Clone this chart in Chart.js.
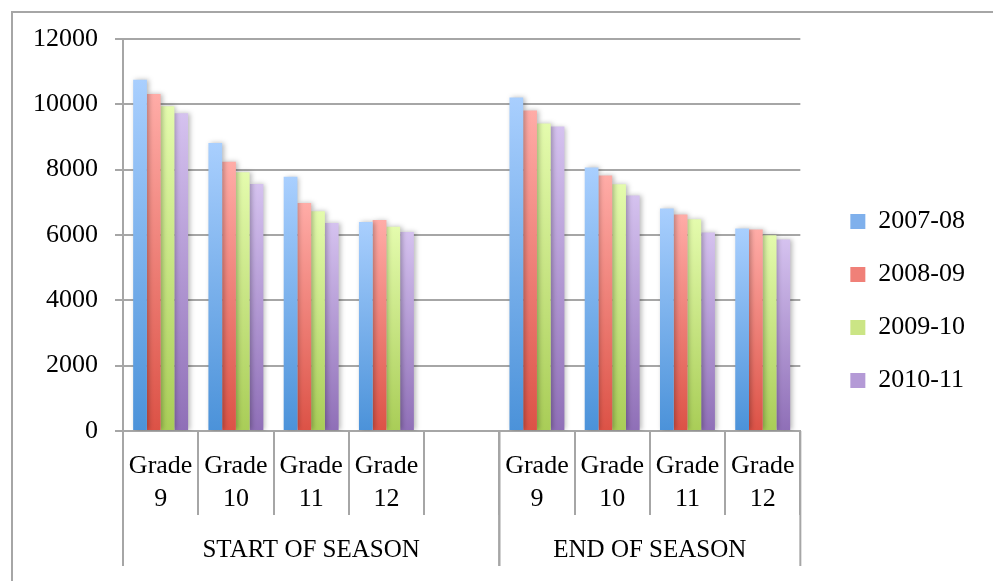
<!DOCTYPE html>
<html>
<head>
<meta charset="utf-8">
<script src="https://cdn.jsdelivr.net/npm/chart.js@4.4.1/dist/chart.umd.min.js"></script>
<style>
  html, body { margin: 0; padding: 0; background: #fff; }
  #wrap { width: 993px; height: 581px; position: relative; }
</style>
</head>
<body>
<div id="wrap"><canvas id="chart"></canvas></div>
<script>
// categorias (el hueco separa los dos grupos)
const categories = [
  ['Grade', '9'], ['Grade', '10'], ['Grade', '11'], ['Grade', '12'],
  '',
  ['Grade', '9'], ['Grade', '10'], ['Grade', '11'], ['Grade', '12']
];
const groupLabels = ['START OF SEASON', 'END OF SEASON'];
const groupStart = [0, 5];
const groupEnd = [4, 8];

const seasons = ['2007-08', '2008-09', '2009-10', '2010-11'];
const s2007 = [10750, 8820, 7780, 6400, null, 10210, 8070, 6810, 6200];
const s2008 = [10320, 8240, 6980, 6460, null, 9810, 7820, 6630, 6170];
const s2009 = [9940, 7920, 6730, 6250, null, 9410, 7550, 6480, 5990];
const s2010 = [9730, 7560, 6370, 6090, null, 9320, 7210, 6080, 5860];

const yTicks = [0, 2000, 4000, 6000, 8000, 10000, 12000];

const COLORS = {
  blue:   ['#a9cffe', '#4b92d9', '#7fb0ec'],
  red:    ['#ffaca7', '#dc5246', '#f08078'],
  green:  ['#e4fbad', '#a9cd57', '#cbe585'],
  purple: ['#d5c2ef', '#8f6fb7', '#b49ad6']
};

const GRID = '#a6a6a6';
const FONT = { family: '"Liberation Serif", "Times New Roman", serif', size: 26 };

function barFill(c) {
  return ctx => {
    const chart = ctx.chart;
    const y = chart.scales && chart.scales.y;
    if (!chart.chartArea || !y || ctx.raw == null) return c[2];
    const yTop = y.getPixelForValue(ctx.raw);
    const yBase = y.getPixelForValue(0);
    const g = chart.ctx.createLinearGradient(0, yTop, 0, yBase);
    g.addColorStop(0, c[0]);
    g.addColorStop(1, c[1]);
    return g;
  };
}

function makeSet(label, data, c) {
  return {
    label: label,
    data: data,
    backgroundColor: barFill(c),
    legendColor: c[2],
    borderWidth: 0,
    categoryPercentage: 0.73,
    barPercentage: 1
  };
}

// marco, sombras y etiquetas de grupo
const extras = {
  id: 'extras',
  beforeDraw(chart) {
    const ctx = chart.ctx;
    ctx.save();
    ctx.strokeStyle = GRID;
    ctx.lineWidth = 2;
    ctx.beginPath();
    ctx.moveTo(12, 581);
    ctx.lineTo(12, 12);
    ctx.lineTo(993, 12);
    ctx.stroke();
    ctx.restore();
  },
  beforeDatasetsDraw(chart) {
    const ctx = chart.ctx;
    ctx.save();
    ctx.shadowColor = 'rgba(0,0,0,0.28)';
    ctx.shadowBlur = 5;
    ctx.shadowOffsetX = 2;
    ctx.shadowOffsetY = 0;
  },
  afterDatasetsDraw(chart) {
    chart.ctx.restore();
  },
  afterDraw(chart) {
    const ctx = chart.ctx;
    const x = chart.scales.x;
    const bottom = chart.chartArea.bottom;
    const cw = x.width / categories.length;
    ctx.save();
    ctx.strokeStyle = GRID;
    ctx.lineWidth = 2;
    ctx.fillStyle = '#000';
    ctx.font = '25px ' + FONT.family;
    ctx.textAlign = 'center';
    ctx.textBaseline = 'middle';
    groupLabels.forEach((g, i) => {
      const left = x.getPixelForValue(groupStart[i]) - cw / 2;
      const right = x.getPixelForValue(groupEnd[i]) + cw / 2;
      ctx.beginPath();
      ctx.moveTo(left, bottom);
      ctx.lineTo(left, bottom + 135);
      ctx.moveTo(right, bottom);
      ctx.lineTo(right, bottom + 135);
      ctx.stroke();
      ctx.fillText(g, (left + right) / 2, bottom + 119);
    });
    ctx.restore();
  }
};

const chart = new Chart(document.getElementById('chart'), {
  type: 'bar',
  data: {
    labels: categories,
    datasets: [
      makeSet(seasons[0], s2007, COLORS.blue),
      makeSet(seasons[1], s2008, COLORS.red),
      makeSet(seasons[2], s2009, COLORS.green),
      makeSet(seasons[3], s2010, COLORS.purple)
    ]
  },
  options: {
    responsive: true,
    maintainAspectRatio: false,
    animation: false,
    layout: { padding: { top: 39, left: 0, right: 18, bottom: 18 } },
    plugins: {
      tooltip: { enabled: false },
      legend: {
        position: 'right',
        labels: {
          font: FONT,
          color: '#000',
          boxWidth: 15,
          boxHeight: 15,
          padding: 27,
          generateLabels(chart) {
            return chart.data.datasets.map((ds, i) => ({
              text: ds.label,
              fillStyle: ds.legendColor,
              strokeStyle: ds.legendColor,
              lineWidth: 0,
              hidden: false,
              datasetIndex: i
            }));
          }
        }
      }
    },
    scales: {
      x: {
        offset: true,
        grid: {
          offset: true,
          drawOnChartArea: false,
          drawTicks: true,
          tickLength: 84,
          color: GRID,
          lineWidth: 2
        },
        border: { display: true, color: GRID, width: 2 },
        ticks: {
          font: { family: FONT.family, size: FONT.size, lineHeight: 1.25 },
          color: '#000',
          padding: -65,
          autoSkip: false,
          maxRotation: 0,
          minRotation: 0
        },
        afterFit(scale) { scale.height = 132; }
      },
      y: {
        min: 0,
        max: 12000,
        afterBuildTicks(scale) { scale.ticks = yTicks.map(v => ({ value: v })); },
        grid: { color: GRID, lineWidth: 2, tickLength: 8 },
        border: { display: true, color: GRID, width: 2 },
        ticks: { font: FONT, color: '#000', padding: 17, callback: v => String(v) },
        afterFit(scale) { scale.width = 123; }
      },
      spacer: {
        type: 'linear',
        position: 'right',
        display: true,
        grid: { display: false },
        border: { display: false },
        ticks: { display: false },
        afterFit(scale) { scale.width = 23; }
      }
    }
  },
  plugins: [extras]
});
</script>
</body>
</html>
